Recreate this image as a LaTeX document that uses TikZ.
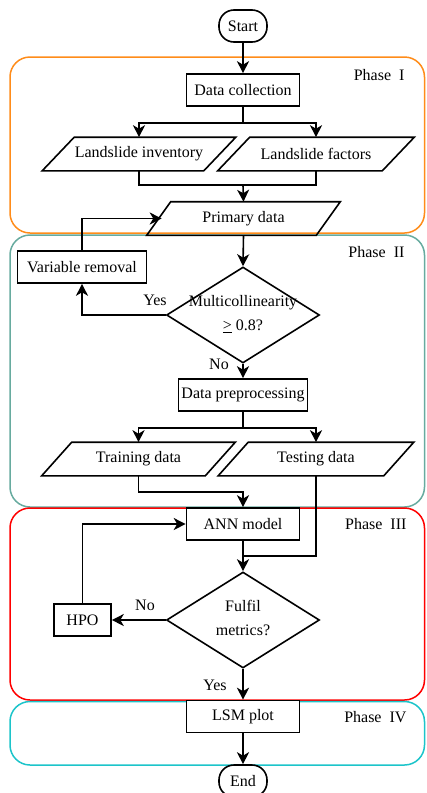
\documentclass[tikz,border=0pt]{standalone}
\usepackage{fontspec}
\setmainfont{Liberation Serif}
\usetikzlibrary{shapes.geometric,arrows.meta,calc}
\definecolor{phorange}{RGB}{255,140,26}
\definecolor{phteal}{RGB}{103,171,159}
\definecolor{phred}{RGB}{255,0,0}
\definecolor{phcyan}{RGB}{28,196,202}
\tikzset{
  base/.style={draw=black,line width=1.6pt,fill=white,inner sep=0pt,font=\fontsize{16}{18}\selectfont},
  termbox/.style={base,rectangle,rounded corners=15pt,minimum width=48pt,minimum height=32pt},
  procbox/.style={base,rectangle,minimum height=32pt},
  iobox/.style={base,draw=none,fill=none,rectangle,minimum height=32pt},
  ioline/.style={draw=black,line width=1.6pt,line join=miter},
  decbox/.style={base,diamond,minimum width=153pt,minimum height=96pt},
  phasebox/.style={line width=1.5pt,rounded corners=20pt},
  phaselabel/.style={anchor=east,font=\fontsize{16}{18}\selectfont},
  txt/.style={font=\fontsize{16}{18}\selectfont,inner sep=0pt},
  conn/.style={line width=1.6pt},
  arr/.style={conn,-{Stealth[length=12pt,width=12pt,inset=3.5pt]}}
}
\begin{document}
\begin{tikzpicture}[x=1pt,y=-1pt]
\useasboundingbox (0,0) rectangle (426,793);
% phase boxes
\draw[phasebox,draw=phorange] (10,57) rectangle (424.5,233);
\draw[phasebox,draw=phteal] (10,235) rectangle (424.5,507);
\draw[phasebox,draw=phred] (10,508) rectangle (424.5,700);
\draw[phasebox,draw=phcyan] (10,701.5) rectangle (424.5,765);
\node[phaselabel] (p1) at (408,75) {Phase\ \ I};
\node[phaselabel] (p2) at (408,252) {Phase\ \ II};
\node[phaselabel] (p3) at (410,524) {Phase\ \ III};
\node[phaselabel] (p4) at (410,717) {Phase\ \ IV};
% nodes
\node[termbox] (start) at (243,26) {Start};
\node[procbox,minimum width=113pt] (dc) at (243,90) {Data collection};
\node[iobox,minimum width=160pt] (li) at (139,154) {Landslide inventory};
\node[iobox,minimum width=163pt] (lf) at (316,154) {Landslide factors};
\node[iobox,minimum width=168pt] (pd) at (243.5,218.5) {Primary data};
\node[procbox,minimum width=129pt] (vr) at (82,267) {Variable removal};
\node[decbox] (d1) at (243,315) {};
\node[txt] (d1t) at (243,315) {\begin{tabular}{@{}c@{}}Multicollinearity\\[6pt]\underline{>} 0.8?\end{tabular}};
\node[procbox,minimum width=129pt] (dp) at (243,395) {Data preprocessing};
\node[iobox,minimum width=162pt] (td) at (138.5,459) {Training data};
\node[iobox,minimum width=164pt] (ts) at (316,459) {Testing data};
\node[procbox,minimum width=113pt] (ann) at (243,524) {ANN model};
\node[decbox] (d2) at (243,620) {};
\node[txt] (d2t) at (243,620) {\begin{tabular}{@{}c@{}}Fulfil\\[6pt]metrics?\end{tabular}};
\node[procbox,minimum width=57pt] (hpo) at (82.5,620) {HPO};
\node[procbox,minimum width=113pt] (lsm) at (243,716.5) {LSM plot};
\node[termbox] (end) at (243,781) {End};
% parallelogram outlines
\foreach \n/\s in {li/16,lf/16,pd/12,td/15,ts/15}{
  \draw[ioline] ($(\n.south west)+(-\s,0)$) -- ($(\n.south east)+(-\s,0)$)
     -- ($(\n.north east)+(\s,0)$) -- ($(\n.north west)+(\s,0)$) -- cycle;
}
\coordinate (j1) at (243,185);
\coordinate (j2) at (243,492);
\coordinate (j3) at (243,556);
% connectors
\draw[arr] (start) -- (dc);
\draw[arr] (dc.south) -- ++(0,16) -| (li.north);
\draw[arr] (dc.south) -- ++(0,16) -| (lf.north);
\draw[conn] (li.south) |- (j1) -| (lf.south);
\draw[arr] (j1) -- (pd.north);
\draw[arr] (vr.north) |- ($(pd.west)+(3,0)$);
\draw[arr] (pd.south) -- (d1.north);
\draw[arr] (d1.west) -| (vr.south);
\node[txt] (yes1) at (155,300) {Yes};
\draw[arr] (d1.south) -- (dp.north);
\node[txt] (no1) at (219,364) {No};
\draw[arr] (dp.south) -- ++(0,16) -| (td.north);
\draw[arr] (dp.south) -- ++(0,16) -| (ts.north);
\draw[arr] (td.south) |- (j2) -- (ann.north);
\draw[conn] (ts.south) |- (j3);
\draw[arr] (ann.south) -- (d2.north);
\draw[arr] (d2.west) -- (hpo.east);
\node[txt] (no2) at (145,605) {No};
\draw[arr] (hpo.north) |- (ann.west);
\draw[arr] (d2.south) -- (lsm.north);
\node[txt] (yes2) at (215,685) {Yes};
\draw[arr] (lsm.south) -- (end.north);
\end{tikzpicture}
\end{document}
